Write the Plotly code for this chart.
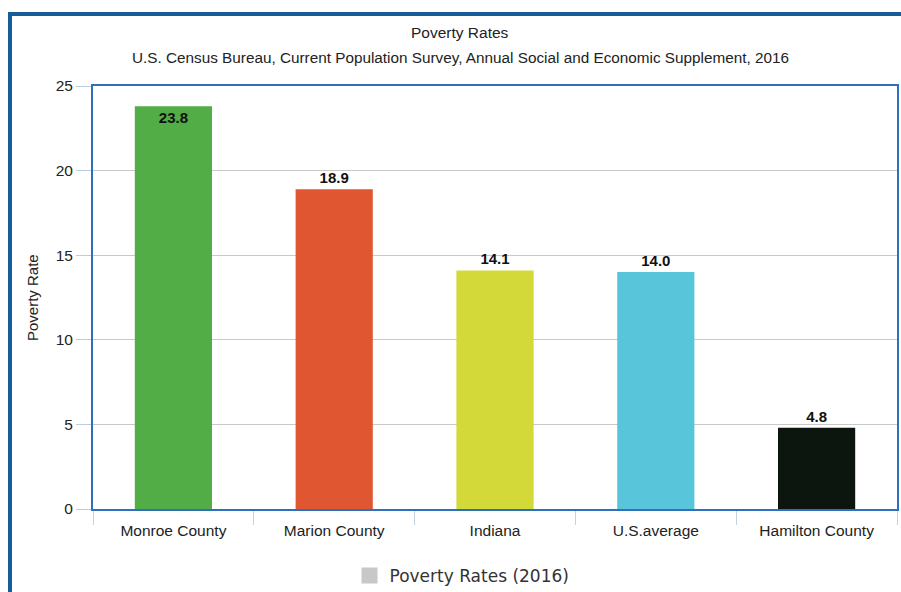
import plotly.graph_objects as go

categories = ["Monroe County", "Marion County", "Indiana", "U.S.average", "Hamilton County"]
values = [23.8, 18.9, 14.1, 14.0, 4.8]
labels = ["23.8", "18.9", "14.1", "14.0", "4.8"]
colors = ["#53ad46", "#e05631", "#d3d938", "#59c5da", "#0d150f"]
text_positions = ["inside", "outside", "outside", "outside", "outside"]
series_name = "Poverty Rates (2016)"

L, R, T, B = 93, 4, 86, 83
W, H = 901, 592
pw, ph = W - L - R, H - T - B

def px_x(x):
    return (x - L) / pw

def px_y(y):
    return (H - B - y) / ph

fig = go.Figure()
fig.add_trace(go.Bar(
    x=categories, y=values, marker=dict(color=colors, line=dict(width=0)),
    width=0.48, text=labels, textposition=text_positions,
    insidetextanchor="end", cliponaxis=False, textangle=0,
    insidetextfont=dict(family="Liberation Sans, Arial", size=15, color="#111111", weight="bold"),
    outsidetextfont=dict(family="Liberation Sans, Arial", size=15, color="#111111", weight="bold"),
    showlegend=False, hoverinfo="x+y",
))
fig.add_trace(go.Scatter(
    x=[categories[0]], y=[None], name=series_name, mode="markers",
    marker=dict(color="#c8c8c8", symbol="square", size=18), showlegend=True,
))

fig.update_layout(
    width=W, height=H,
    margin=dict(l=L, r=R, t=T, b=B),
    paper_bgcolor="white", plot_bgcolor="white",
    font=dict(family="Liberation Sans, Arial", size=15, color="#333333"),
    showlegend=True,
    legend=dict(orientation="h", xref="container", yref="container",
                x=462 / W, xanchor="center", y=1 - 576 / H, yanchor="middle",
                itemsizing="trace",
                font=dict(family="DejaVu Sans", size=17, color="#333333")),
    xaxis=dict(showgrid=False, showline=True, mirror=True, linecolor="#2f6fbf", linewidth=2,
               ticks="outside", tickson="boundaries", ticklen=14, tickcolor="#c8d2dc",
               ticklabelstandoff=6,
               automargin=False, tickfont=dict(size=15.5, color="#222222")),
    yaxis=dict(range=[0, 25], dtick=5, showgrid=True, gridcolor="#c8c8c8", gridwidth=1,
               showline=True, mirror=True, linecolor="#2f6fbf", linewidth=2,
               ticks="outside", ticklen=15, tickcolor="#b9cde3", zeroline=False,
               automargin=False, tickfont=dict(size=15.5, color="#222222")),
    annotations=[
        dict(text="Poverty Rates", xref="paper", yref="paper", x=px_x(460), y=px_y(33),
             showarrow=False, xanchor="center", yanchor="middle", font=dict(size=15.5, color="#222222")),
        dict(text="U.S. Census Bureau, Current Population Survey, Annual Social and Economic Supplement, 2016",
             xref="paper", yref="paper", x=px_x(460), y=px_y(58), showarrow=False,
             xanchor="center", yanchor="middle", font=dict(size=15.3, color="#222222")),
        dict(text="Poverty Rate", xref="paper", yref="paper", x=px_x(32), y=px_y(298),
             showarrow=False, textangle=-90, xanchor="center", yanchor="middle",
             font=dict(size=15, color="#222222")),
    ],
    shapes=[
        dict(type="rect", xref="paper", yref="paper", x0=px_x(10), x1=px_x(910),
             y0=px_y(620), y1=px_y(14), line=dict(color="#175b99", width=4), layer="above"),
    ],
)

fig.write_html("out.html", config={"displayModeBar": False},
               post_script="document.body.style.margin='0';")
